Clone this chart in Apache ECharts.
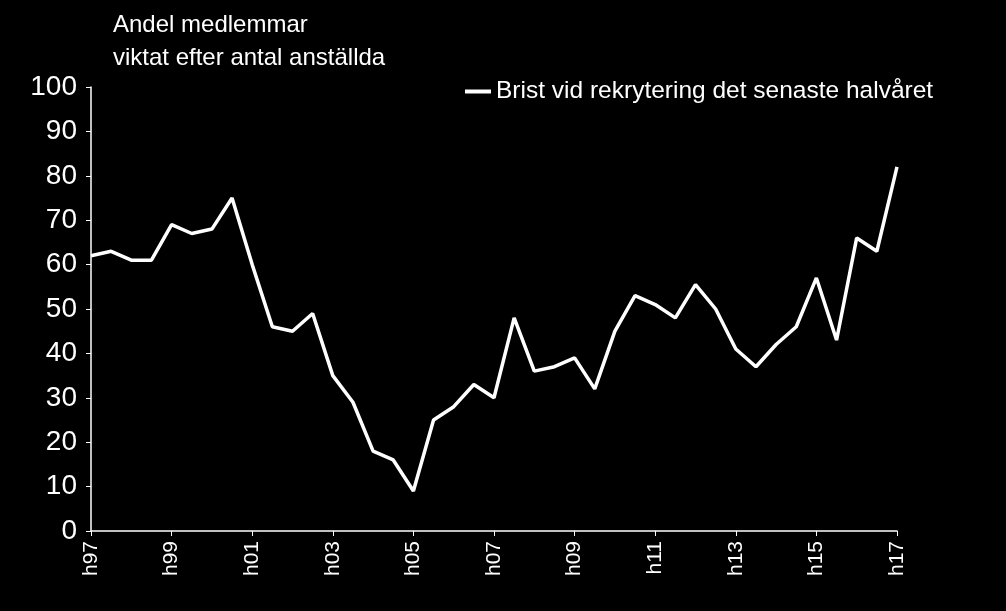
<!DOCTYPE html>
<html><head><meta charset="utf-8">
<script src="https://cdn.jsdelivr.net/npm/echarts@6/dist/echarts.min.js"></script>
<style>html,body{margin:0;background:#000}#c{width:1006px;height:611px}</style>
</head><body><div id="c"></div>
<script>
// halvår: v = vår, h = höst
var perioder = ['h97','v98','h98','v99','h99','v00','h00','v01','h01','v02','h02','v03','h03','v04','h04','v05','h05',
  'v06','h06','v07','h07','v08','h08','v09','h09','v10','h10','v11','h11','v12','h12','v13','h13','v14','h14',
  'v15','h15','v16','h16','v17','h17'];
var brist = [62,63,61,61,69,67,68,75,60,46,45,49,35,29,18,16,9,25,28,33,30,48,36,37,39,32,45,53,51,48,55.5,50,41,37,42,46,57,43,66,63,82];
var yTicks = [0,10,20,30,40,50,60,70,80,90,100];

var chart = echarts.init(document.getElementById('c'));
chart.setOption({
  backgroundColor: '#000',
  animation: false,
  textStyle: {fontFamily: 'Liberation Sans'},
  title: {
    text: 'Andel medlemmar\nviktat efter antal anställda',
    left: 108, top: 4,
    textStyle: {color: '#fff', fontSize: 24, fontWeight: 'normal', lineHeight: 33}
  },
  legend: {
    data: ['Brist vid rekrytering det senaste halvåret'],
    left: 460, top: 74,
    itemWidth: 26, itemHeight: 4, itemGap: 4,
    icon: 'rect',
    textStyle: {color: '#fff', fontSize: 24.5}
  },
  grid: {left: 91, right: 109, top: 87, bottom: 80},
  xAxis: {
    type: 'category', data: perioder, boundaryGap: false,
    axisLine: {lineStyle: {color: '#fff', width: 1.5}},
    axisTick: {interval: 3, lineStyle: {color: '#fff'}},
    axisLabel: {interval: 3, rotate: 90, color: '#fff', fontSize: 21, margin: 10}
  },
  yAxis: {
    type: 'value', min: yTicks[0], max: yTicks[yTicks.length - 1], interval: 10,
    splitLine: {show: false},
    axisLine: {show: true, lineStyle: {color: '#fff', width: 1.5}},
    axisTick: {show: true, lineStyle: {color: '#fff'}},
    axisLabel: {color: '#fff', fontSize: 28, margin: 14}
  },
  series: [{
    name: 'Brist vid rekrytering det senaste halvåret',
    type: 'line', data: brist, showSymbol: false,
    lineStyle: {color: '#fff', width: 3.5}, itemStyle: {color: '#fff'}
  }]
});
</script></body></html>
